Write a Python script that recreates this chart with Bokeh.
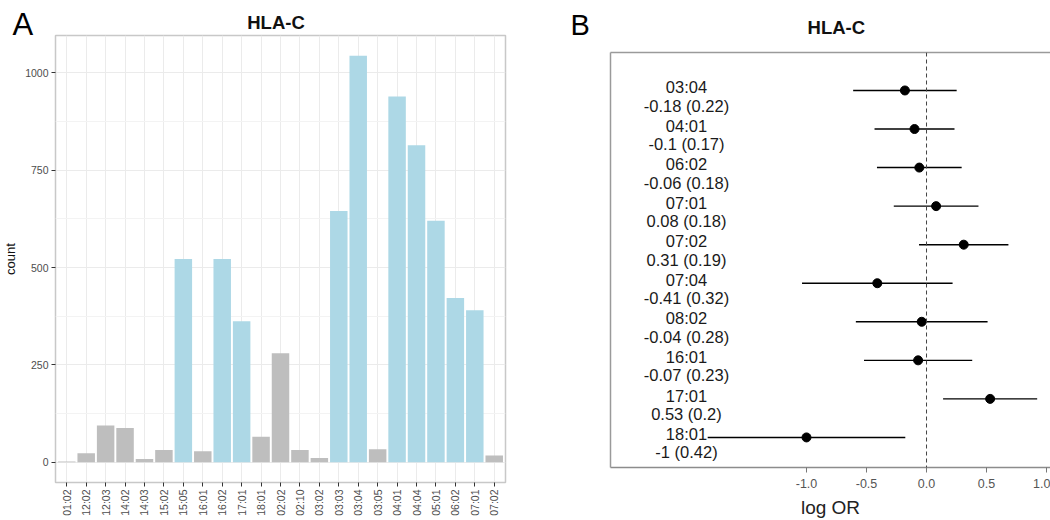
import math

from bokeh.core.properties import value
from bokeh.embed import file_html
from bokeh.layouts import column, row
from bokeh.models import (ColumnDataSource, FactorRange, FixedTicker, Label,
                          LinearAxis, NumeralTickFormatter, Range1d, Span)
from bokeh.plotting import figure
from bokeh.resources import INLINE

FONT = "Liberation Sans"
DESCENT = 0.212  # font descent as a fraction of the font size

# ---- Panel A: allele counts -------------------------------------------------
alleles_a = ["01:02", "12:02", "12:03", "14:02", "14:03", "15:02", "15:05",
             "16:01", "16:02", "17:01", "18:01", "02:02", "02:10", "03:02",
             "03:03", "03:04", "03:05", "04:01", "04:04", "05:01", "06:02",
             "07:01", "07:02"]
counts_a = [2, 23, 94, 88, 8, 31, 522, 28, 522, 362, 65, 280, 31, 11,
            645, 1044, 33, 939, 814, 620, 422, 390, 17]
tested_a = [False, False, False, False, False, False, True, False, True, True,
            False, False, False, False, True, True, False, True, True, True,
            True, True, False]
y_ticks_a = [0, 250, 500, 750, 1000]
y_minor_a = [125, 375, 625, 875]

# ---- Panel B: log odds ratios with standard errors ------------------------
alleles_b = ["03:04", "04:01", "06:02", "07:01", "07:02", "07:04", "08:02",
             "16:01", "17:01", "18:01"]
est_b = [-0.18, -0.1, -0.06, 0.08, 0.31, -0.41, -0.04, -0.07, 0.53, -1.0]
se_b = [0.22, 0.17, 0.18, 0.18, 0.19, 0.32, 0.28, 0.23, 0.2, 0.42]
x_ticks_b = [-1.0, -0.5, 0.0, 0.5, 1.0]


def canvas_label(text, x, baseline, size, align, bold=False, color="#000000"):
    """Text outside the frame, placed in canvas pixels (y measured from top)."""
    return Label(x=x, y=baseline + DESCENT * size, x_units="canvas",
                 y_units="canvas", text=text, text_align=align,
                 text_baseline="bottom", text_font=FONT,
                 text_font_size=f"{size}px",
                 text_font_style="bold" if bold else "normal",
                 text_color=color)


# ============================================================================
colors_a = ["#ADD8E6" if t else "#BEBEBE" for t in tested_a]
src_a = ColumnDataSource(dict(allele=alleles_a, count=counts_a, color=colors_a))

pa = figure(width=540, height=520, title=None,
            x_range=FactorRange(*alleles_a, range_padding=0.08,
                                range_padding_units="absolute"),
            y_range=Range1d(-52.2, 1096),
            output_backend="svg", toolbar_location=None,
            min_border_left=54, min_border_right=35,
            min_border_top=35, min_border_bottom=38)
pa.vbar(x="allele", top="count", width=0.9, source=src_a,
        fill_color="color", line_color=None)

pa.outline_line_color = "#C8C8C8"
pa.outline_line_width = 1.5
pa.xgrid.grid_line_color = "#EBEBEB"
pa.ygrid.grid_line_color = "#EBEBEB"
pa.ygrid.minor_grid_line_color = "#F3F3F3"
pa.yaxis.ticker = FixedTicker(ticks=y_ticks_a, minor_ticks=y_minor_a)

for ax in (pa.xaxis[0], pa.yaxis[0]):
    ax.axis_line_color = None
    ax.major_tick_line_color = "#333333"
    ax.major_tick_in = 0
    ax.major_tick_out = 4
    ax.minor_tick_line_color = None
    ax.major_label_text_font = FONT
    ax.major_label_text_font_size = "10.5px"
    ax.major_label_text_color = "#4D4D4D"
    ax.major_label_standoff = 3

pa.xaxis.major_label_orientation = math.pi / 2
pa.yaxis.axis_label = "count"
pa.yaxis.axis_label_text_font = FONT
pa.yaxis.axis_label_text_font_size = "13px"
pa.yaxis.axis_label_text_font_style = "normal"
pa.yaxis.axis_label_text_color = "#111111"
pa.yaxis.axis_label_standoff = 4

pa.add_layout(canvas_label("HLA-C", 275.5, 29, 18.5, "center", bold=True,
                           color="#111111"), "above")
pa.add_layout(canvas_label("A", 12, 34.5, 31, "left"), "right")

# ============================================================================
rows_b = list(range(1, len(alleles_b) + 1))
lo_b = [e - 1.96 * s for e, s in zip(est_b, se_b)]
hi_b = [e + 1.96 * s for e, s in zip(est_b, se_b)]
value_txt = [f"{e:g} ({s:g})" for e, s in zip(est_b, se_b)]
label_x = [-2.0] * len(alleles_b)
src_b = ColumnDataSource(dict(
    allele=alleles_b, est=est_b, lo=lo_b, hi=hi_b, row=rows_b,
    name_y=[r - 0.086 for r in rows_b], val_y=[r + 0.39 for r in rows_b],
    value_txt=value_txt, lx=label_x))

pb = figure(width=510, height=520, title=None,
            x_range=Range1d(-2.633, 1.033), y_range=Range1d(10.78, 0.015),
            output_backend="svg", toolbar_location=None,
            min_border_left=70, min_border_right=0,
            min_border_top=52, min_border_bottom=53)
pb.outline_line_color = None
pb.xgrid.visible = False
pb.ygrid.visible = False

pb.add_layout(Span(location=0, dimension="height", line_color="#444444",
                   line_width=1, line_dash="4 3"))
pb.segment(x0="lo", y0="row", x1="hi", y1="row", source=src_b,
           line_color="#000000", line_width=1.4)
pb.scatter(x="est", y="row", source=src_b, size=9, marker="circle",
           fill_color="#000000", line_color="#000000")
pb.text(x="lx", y="name_y", text="allele", source=src_b,
        text_align="center", text_baseline="alphabetic",
        text_font=value(FONT), text_font_size="16.5px", text_color="#1A1A1A")
pb.text(x="lx", y="val_y", text="value_txt", source=src_b,
        text_align="center", text_baseline="alphabetic",
        text_font=value(FONT), text_font_size="16.5px", text_color="#1A1A1A")

xb = pb.xaxis[0]
xb.ticker = FixedTicker(ticks=x_ticks_b)
xb.formatter = NumeralTickFormatter(format="0.0")
xb.minor_tick_line_color = None
xb.axis_line_color = "#8C8C8C"
xb.axis_line_width = 1.5
xb.major_tick_line_color = "#777777"
xb.major_tick_in = 0
xb.major_tick_out = 5
xb.major_label_standoff = 6
xb.major_label_text_font = FONT
xb.major_label_text_font_size = "12.5px"
xb.major_label_text_color = "#555555"
xb.axis_label = "log OR"
xb.axis_label_text_font = FONT
xb.axis_label_text_font_size = "19px"
xb.axis_label_text_font_style = "normal"
xb.axis_label_text_color = "#222222"
xb.axis_label_standoff = 6

yb = pb.yaxis[0]
yb.ticker = FixedTicker(ticks=[])
yb.axis_line_color = "#9A9A9A"
yb.axis_line_width = 1.5
yb.major_tick_line_color = None
yb.minor_tick_line_color = None

# top edge of the box: an empty axis that sits right on the frame
top_axis = LinearAxis(ticker=FixedTicker(ticks=[]), axis_line_color="#9A9A9A",
                      axis_line_width=1.5, major_tick_line_color=None,
                      minor_tick_line_color=None)
pb.add_layout(top_axis, "above")

pb.add_layout(canvas_label("HLA-C", 295.8, 33.3, 18.5, "center", bold=True,
                           color="#111111"), "above")
pb.add_layout(canvas_label("B", 30, 34.5, 29, "left"), "left")

layout = row(column(pa), column(pb))
open("out.html", "w").write(file_html(layout, INLINE))
